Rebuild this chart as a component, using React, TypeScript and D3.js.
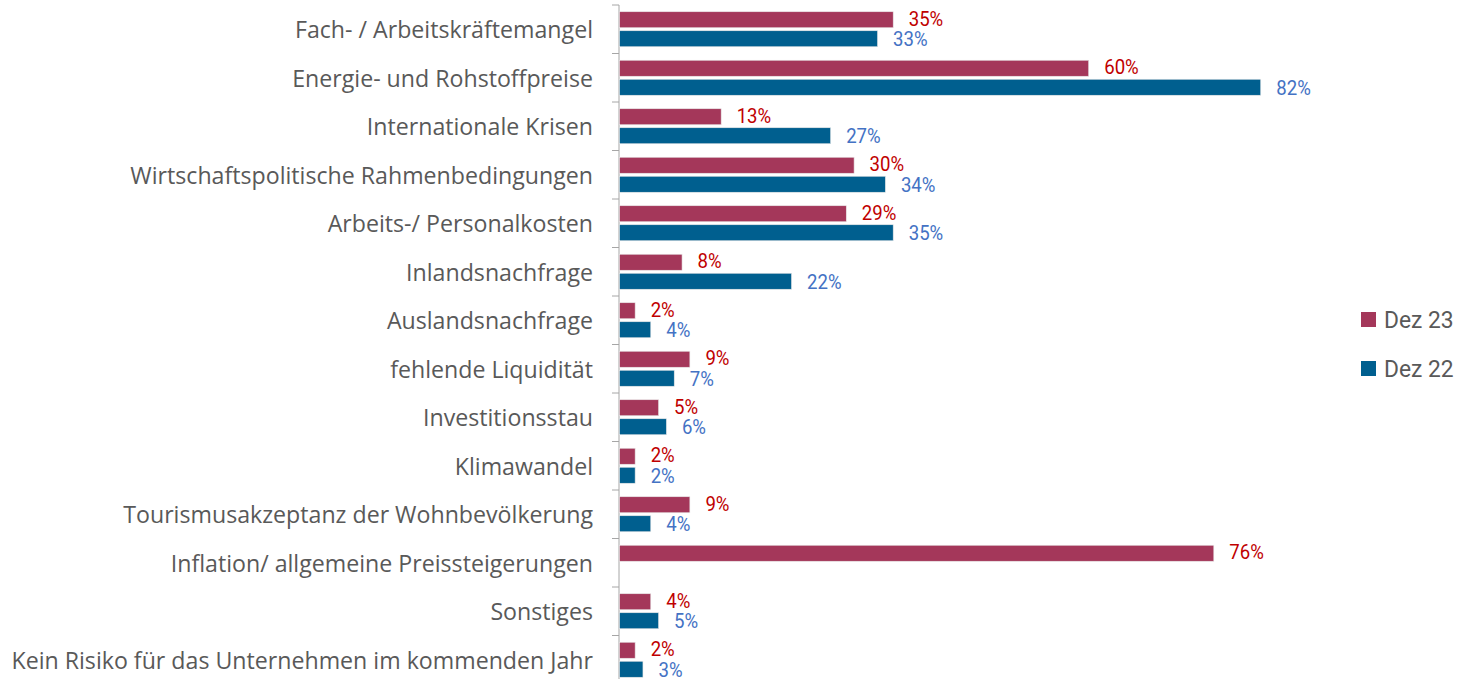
import React, { useEffect, useRef } from 'react';
import * as d3 from 'd3';

const categories = [
  'Fach- / Arbeitskräftemangel',
  'Energie- und Rohstoffpreise',
  'Internationale Krisen',
  'Wirtschaftspolitische Rahmenbedingungen',
  'Arbeits-/ Personalkosten',
  'Inlandsnachfrage',
  'Auslandsnachfrage',
  'fehlende Liquidität',
  'Investitionsstau',
  'Klimawandel',
  'Tourismusakzeptanz der Wohnbevölkerung',
  'Inflation/ allgemeine Preissteigerungen',
  'Sonstiges',
  'Kein Risiko für das Unternehmen im kommenden Jahr',
];

const seriesNames = ['Dez 23', 'Dez 22'];
const dez23 = [35, 60, 13, 30, 29, 8, 2, 9, 5, 2, 9, 76, 4, 2];
const dez22 = [33, 82, 27, 34, 35, 22, 4, 7, 6, 2, 4, null, 5, 3];

const barColors = ['#A4375A', '#005F8F'];
const labelColors = ['#C00000', '#4472C4'];

// squeeze a text horizontally to look like a condensed face
function condense(sel, k) {
  sel.each(function () {
    const len = this.getComputedTextLength();
    d3.select(this).attr('textLength', len * k).attr('lengthAdjust', 'spacingAndGlyphs');
  });
}

export default function App() {
  const svgRef = useRef(null);

  useEffect(() => {
    const H = 679;
    const svg = d3.select(svgRef.current);
    svg.selectAll('*').remove();

    const x0 = 619;
    const x = d3.scaleLinear().domain([0, 100]).range([x0, x0 + 782]);
    const y = d3.scaleBand().domain(categories).range([5, 5 + 48.5 * categories.length]).padding(0);
    const ySub = d3.scaleBand().domain(seriesNames).range([0, y.bandwidth()])
      .paddingInner(3 / 19).paddingOuter(0.355);

    const rows = categories.map((c, i) => ({ c, vals: [dez23[i], dez22[i]] }));

    // category labels
    svg.append('g').selectAll('text')
      .data(categories)
      .join('text')
      .attr('x', 593)
      .attr('y', d => y(d) + y.bandwidth() / 2)
      .attr('text-anchor', 'end')
      .attr('dominant-baseline', 'central')
      .style('font-family', '"Open Sans", sans-serif')
      .style('font-size', '23px')
      .style('fill', '#595959')
      .text(d => d)
      .call(condense, 1.007);

    // axis line + ticks
    const axis = svg.append('g');
    axis.append('line')
      .attr('x1', x0).attr('x2', x0)
      .attr('y1', 5).attr('y2', H)
      .attr('stroke', '#A6A6A6').attr('stroke-width', 1);
    axis.selectAll('.tick')
      .data(d3.range(categories.length + 1))
      .join('line')
      .attr('x1', x0 - 7).attr('x2', x0)
      .attr('y1', i => 5 + i * y.step())
      .attr('y2', i => 5 + i * y.step())
      .attr('stroke', '#A6A6A6').attr('stroke-width', 1);

    // bars
    const groups = svg.append('g').selectAll('g')
      .data(rows)
      .join('g')
      .attr('transform', d => `translate(0,${y(d.c)})`);

    seriesNames.forEach((s, si) => {
      const items = groups.filter(d => d.vals[si] != null);
      items.append('rect')
        .attr('x', x0 + 0.5)
        .attr('y', ySub(s))
        .attr('width', d => x(d.vals[si]) - x0)
        .attr('height', ySub.bandwidth())
        .attr('fill', barColors[si])
        .attr('stroke', '#E8E8E8')
        .attr('stroke-width', 0.6);
      items.append('text')
        .attr('x', d => x(d.vals[si]) + 16)
        .attr('y', ySub(s) + ySub.bandwidth() / 2 + (si === 0 ? -1 : 0.5))
        .attr('dominant-baseline', 'central')
        .style('font-family', 'Roboto, sans-serif')
        .style('font-size', '20px')
        .style('fill', labelColors[si])
        .text(d => `${d.vals[si]}%`)
        .call(condense, 0.93);
    });

    // legend
    const legend = svg.append('g').attr('transform', 'translate(1361,312)');
    seriesNames.forEach((s, i) => {
      const g = legend.append('g').attr('transform', `translate(0,${i * 49})`);
      g.append('rect').attr('width', 15).attr('height', 15).attr('fill', barColors[i]);
      g.append('text')
        .attr('x', 23).attr('y', 8)
        .attr('dominant-baseline', 'central')
        .style('font-family', 'Roboto, sans-serif')
        .style('font-size', '24px')
        .style('fill', '#595959')
        .text(s)
        .call(condense, 0.95);
    });
  }, []);

  return (
    <svg
      ref={svgRef}
      width={1457}
      height={679}
      style={{ position: 'absolute', left: 0, top: 0, background: '#fff' }}
    />
  );
}
